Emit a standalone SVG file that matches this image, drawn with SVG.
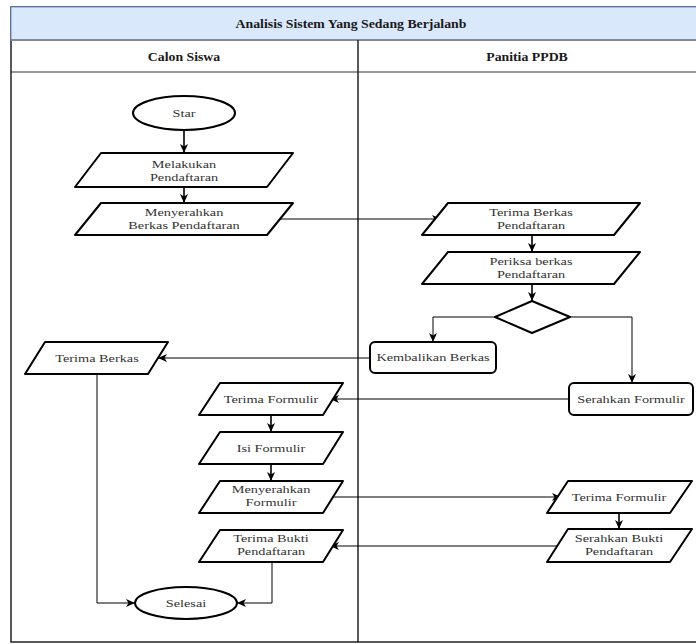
<svg xmlns="http://www.w3.org/2000/svg" width="696" height="644" viewBox="0 0 696 644">
<style>
text{font-family:'Liberation Serif','Times New Roman','DejaVu Serif',serif}
.t{font-size:11px;fill:#333;text-anchor:middle}
.h{font-size:11.5px;font-weight:bold;fill:#1a1a1a;text-anchor:middle}
.s{fill:#fff;stroke:#000;stroke-width:2;stroke-linejoin:round}
.c{fill:none;stroke:#000;stroke-width:1}
.cs{fill:none;stroke:#000;stroke-width:1.6}
</style>
<defs>
<marker id="a" markerUnits="userSpaceOnUse" markerWidth="10" markerHeight="10" viewBox="0 0 10 10" refX="9" refY="5" orient="auto">
<path d="M0,1 L9,5 L0,9 L2.5,5 z" fill="#000"/>
</marker>
</defs>
<rect width="696" height="644" fill="#fff"/>
<g id="pool" font-family="Liberation Serif, serif">
<rect x="11" y="7" width="690" height="635" fill="#fff" stroke="#222" stroke-width="1.5"/>
<rect x="11" y="7" width="690" height="33" fill="#dae8fc" stroke="#6c8ebf" stroke-width="1"/>
<line x1="11" y1="40" x2="700" y2="40" stroke="#7f8b9a" stroke-width="2"/>
<line x1="11" y1="72" x2="700" y2="72" stroke="#333" stroke-width="1.2"/>
<line x1="358" y1="40" x2="358" y2="642" stroke="#222" stroke-width="1.5"/>
<text class="h" transform="translate(351,28) scale(1.2,1)">Analisis Sistem Yang Sedang Berjalanb</text>
<text class="h" transform="translate(184,61) scale(1.2,1)">Calon Siswa</text>
<text class="h" transform="translate(527,61) scale(1.2,1)">Panitia PPDB</text>
</g>
<g id="connectors">
<path class="cs" d="M184,130 V153" marker-end="url(#a)"/>
<path class="cs" d="M184,187 V203" marker-end="url(#a)"/>
<path class="c" d="M273,219 H441" marker-end="url(#a)"/>
<path class="cs" d="M532,235 V252" marker-end="url(#a)"/>
<path class="cs" d="M532,284 V301" marker-end="url(#a)"/>
<path class="c" d="M495,317 H433 V342" marker-end="url(#a)"/>
<path class="c" d="M570,317 H632 V383" marker-end="url(#a)"/>
<path class="c" d="M370,358 H158" marker-end="url(#a)"/>
<path class="c" d="M569,399 H330" marker-end="url(#a)"/>
<path class="cs" d="M271,415 V432" marker-end="url(#a)"/>
<path class="cs" d="M271,464 V481" marker-end="url(#a)"/>
<path class="c" d="M333,497 H561" marker-end="url(#a)"/>
<path class="cs" d="M619,513 V529" marker-end="url(#a)"/>
<path class="c" d="M557,546 H330" marker-end="url(#a)"/>
<path class="c" d="M272,562 V603 H237" marker-end="url(#a)"/>
<path class="c" d="M97,374 V603 H135" marker-end="url(#a)"/>
</g>
<g id="n-star">
<ellipse class="s" cx="184" cy="113" rx="51" ry="17"/>
<text class="t" font-family="Liberation Serif, serif" transform="translate(184,117) scale(1.3,1)">Star</text>
</g>
<g id="n-melakukan">
<path class="s" d="M101,153 H293 L267,187 H75 Z"/>
<text class="t" font-family="Liberation Serif, serif" transform="translate(184,168) scale(1.3,1)"><tspan x="0">Melakukan</tspan><tspan x="0" dy="13">Pendaftaran</tspan></text>
</g>
<g id="n-menyerahkan-berkas">
<path class="s" d="M101,203 H293 L267,235 H75 Z"/>
<text class="t" font-family="Liberation Serif, serif" transform="translate(184,216) scale(1.3,1)"><tspan x="0">Menyerahkan</tspan><tspan x="0" dy="13">Berkas Pendaftaran</tspan></text>
</g>
<g id="n-terima-berkas-pendaftaran">
<path class="s" d="M448,203 H640 L614,235 H422 Z"/>
<text class="t" font-family="Liberation Serif, serif" transform="translate(531,216) scale(1.3,1)"><tspan x="0">Terima Berkas</tspan><tspan x="0" dy="13">Pendaftaran</tspan></text>
</g>
<g id="n-periksa">
<path class="s" d="M448,252 H640 L614,284 H422 Z"/>
<text class="t" font-family="Liberation Serif, serif" transform="translate(531,265) scale(1.3,1)"><tspan x="0">Periksa berkas</tspan><tspan x="0" dy="13">Pendaftaran</tspan></text>
</g>
<g id="n-decision">
<path class="s" d="M532,301 L570,317 L532,333 L495,317 Z"/>
</g>
<g id="n-kembalikan">
<rect class="s" x="370" y="342" width="126" height="31" rx="5"/>
<text class="t" font-family="Liberation Serif, serif" transform="translate(433,361) scale(1.3,1)">Kembalikan Berkas</text>
</g>
<g id="n-serahkan-formulir">
<rect class="s" x="569" y="383" width="124" height="32" rx="5"/>
<text class="t" font-family="Liberation Serif, serif" transform="translate(631,403) scale(1.3,1)">Serahkan Formulir</text>
</g>
<g id="n-terima-berkas">
<path class="s" d="M45,342 H168 L148,374 H25 Z"/>
<text class="t" font-family="Liberation Serif, serif" transform="translate(97,362) scale(1.3,1)">Terima Berkas</text>
</g>
<g id="n-terima-formulir-1">
<path class="s" d="M220,383 H343 L323,415 H199 Z"/>
<text class="t" font-family="Liberation Serif, serif" transform="translate(271,403) scale(1.3,1)">Terima Formulir</text>
</g>
<g id="n-isi-formulir">
<path class="s" d="M220,432 H343 L323,464 H199 Z"/>
<text class="t" font-family="Liberation Serif, serif" transform="translate(271,452) scale(1.3,1)">Isi Formulir</text>
</g>
<g id="n-menyerahkan-formulir">
<path class="s" d="M220,481 H343 L323,513 H199 Z"/>
<text class="t" font-family="Liberation Serif, serif" transform="translate(271,493) scale(1.3,1)"><tspan x="0">Menyerahkan</tspan><tspan x="0" dy="13">Formulir</tspan></text>
</g>
<g id="n-terima-bukti">
<path class="s" d="M220,530 H343 L323,562 H199 Z"/>
<text class="t" font-family="Liberation Serif, serif" transform="translate(271,542) scale(1.3,1)"><tspan x="0">Terima Bukti</tspan><tspan x="0" dy="13">Pendaftaran</tspan></text>
</g>
<g id="n-selesai">
<ellipse class="s" cx="186" cy="603" rx="51" ry="16"/>
<text class="t" font-family="Liberation Serif, serif" transform="translate(186,607) scale(1.3,1)">Selesai</text>
</g>
<g id="n-terima-formulir-2">
<path class="s" d="M568,481 H692 L670,513 H547 Z"/>
<text class="t" font-family="Liberation Serif, serif" transform="translate(619,501) scale(1.3,1)">Terima Formulir</text>
</g>
<g id="n-serahkan-bukti">
<path class="s" d="M568,529 H692 L670,562 H547 Z"/>
<text class="t" font-family="Liberation Serif, serif" transform="translate(619,542) scale(1.3,1)"><tspan x="0">Serahkan Bukti</tspan><tspan x="0" dy="13">Pendaftaran</tspan></text>
</g>
</svg>
